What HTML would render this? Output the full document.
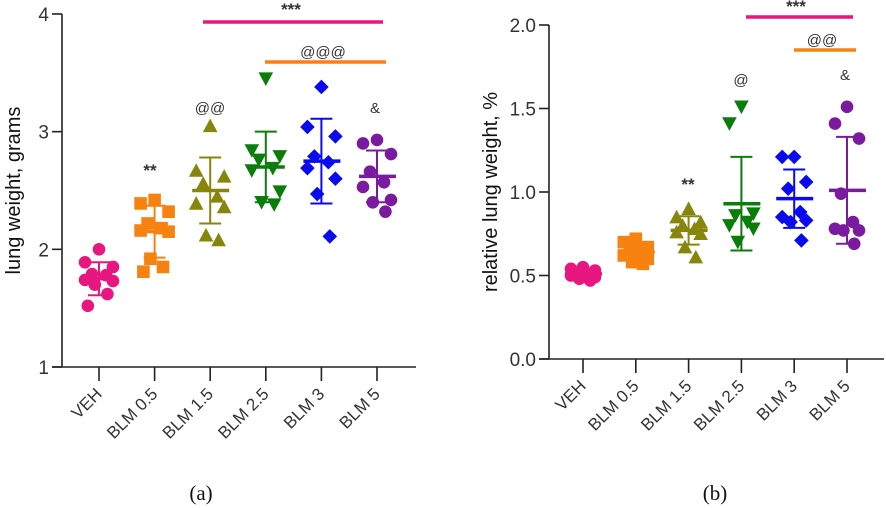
<!DOCTYPE html>
<html><head><meta charset="utf-8"><style>
html,body{margin:0;padding:0;background:#fff;}
svg{display:block;font-family:"Liberation Sans",sans-serif;}
</style></head><body>
<svg id="fig" width="886" height="508" viewBox="0 0 886 508"></svg>
<script>
const categories = ["VEH","BLM 0.5","BLM 1.5","BLM 2.5","BLM 3","BLM 5"];
const colors = ["#e8177f","#f7820f","#86860a","#0b7d0b","#0a0aee","#7a1a9e"];
const shapes = ["circle","square","tri","itri","diamond","circle"];
// panel a: lung weight (grams)
const aPoints = [
 [2.0,1.89,1.85,1.79,1.78,1.74,1.73,1.70,1.62,1.52],
 [2.42,2.39,2.32,2.22,2.18,2.16,2.15,1.92,1.85,1.81],
 [3.05,2.67,2.62,2.56,2.45,2.39,2.36,2.12,2.08],
 [3.45,2.84,2.79,2.76,2.69,2.67,2.49,2.40,2.38],
 [3.38,3.04,2.96,2.79,2.74,2.69,2.60,2.47,2.11],
 [2.93,2.90,2.81,2.66,2.57,2.53,2.42,2.40,2.32]];
const aMean = [1.75,2.15,2.50,2.70,2.75,2.62];
const aSD = [0.14,0.22,0.28,0.30,0.36,0.22];
const aTicks = [1,2,3,4];
// panel b: relative lung weight (%)
const bPoints = [
 [0.55,0.54,0.53,0.52,0.51,0.50,0.49,0.48,0.47],
 [0.72,0.70,0.67,0.65,0.64,0.62,0.60,0.58,0.57],
 [0.90,0.85,0.82,0.80,0.78,0.76,0.75,0.67,0.61],
 [1.51,1.41,0.87,0.86,0.82,0.80,0.78,0.70],
 [1.21,1.21,1.06,1.02,0.88,0.85,0.83,0.82,0.71],
 [1.51,1.41,1.32,0.99,0.82,0.78,0.77,0.77,0.69]];
const bMean = [0.51,0.64,0.77,0.93,0.96,1.01];
const bSD = [0.03,0.04,0.085,0.28,0.175,0.32];
const bTicks = [0.0,0.5,1.0,1.5,2.0];
const bTickLabels = ["0.0","0.5","1.0","1.5","2.0"];
const jitterPattern = [0,-1,1,-0.5,0.5,-1,1,-0.3,0.6,-0.8];

const NS="http://www.w3.org/2000/svg";
const svg=document.getElementById('fig');
function el(tag,attrs,parent){const e=document.createElementNS(NS,tag);for(const k in attrs)e.setAttribute(k,attrs[k]);(parent||svg).appendChild(e);return e;}

function panel(cfg){
  const g=el('g',{});
  
  
  const y=v=>cfg.y0+(v-cfg.vmin)/(cfg.vmax-cfg.vmin)*(cfg.y1-cfg.y0);
  const x=i=>cfg.x0+i*cfg.dx;
  const ax=el('line',{x1:cfg.ax,y1:y(cfg.vmax),x2:cfg.ax,y2:cfg.base,stroke:'#222','stroke-width':1.6},g);
  
  const xa=el('line',{x1:cfg.ax-10,y1:cfg.base,x2:cfg.xend,y2:cfg.base,stroke:'#222','stroke-width':1.6},g);
  
  cfg.ticks.forEach((t,i)=>{
    el('line',{x1:cfg.ax-10,y1:y(t),x2:cfg.ax,y2:y(t),stroke:'#222','stroke-width':1.6},g);
    const tl=el('text',{x:cfg.ax-13,y:y(t)+7,'text-anchor':'end','font-size':19,fill:'#333'},g);
    tl.textContent=cfg.tickLabels[i];
    
  });
  const yt=el('text',{transform:`translate(${cfg.titleX},${(y(cfg.vmin)+y(cfg.vmax))/2}) rotate(-90)`,'text-anchor':'middle','font-size':20,fill:'#111'},g);
  yt.textContent=cfg.title;
  categories.forEach((c,i)=>{
    el('line',{x1:x(i),y1:cfg.base,x2:x(i),y2:cfg.base+14,stroke:'#222','stroke-width':1.6},g);
    const lx=x(i)+4,ly=cfg.base+28;
    const t=el('text',{x:lx,y:ly,'text-anchor':'end','font-size':17,fill:'#333',transform:`rotate(-45 ${lx} ${ly})`},g);
    t.textContent=c;
    const col=colors[i];
    const grp=el('g',{},g);
    
    
    cfg.points[i].forEach((v,k)=>{
      const off=jitterPattern[k%jitterPattern.length]*cfg.jit;
      const px=x(i)+off,py=y(v),r=6.3;
      let m;
      if(shapes[i]==='circle')m=el('circle',{cx:px,cy:py,r:r,fill:col},grp);
      else if(shapes[i]==='square')m=el('rect',{x:px-r,y:py-r,width:2*r,height:2*r,fill:col},grp);
      else if(shapes[i]==='tri')m=el('polygon',{points:`${px},${py-r-1} ${px-r-1},${py+r} ${px+r+1},${py+r}`,fill:col},grp);
      else if(shapes[i]==='itri')m=el('polygon',{points:`${px},${py+r+1} ${px-r-1},${py-r} ${px+r+1},${py-r}`,fill:col},grp);
      else m=el('polygon',{points:`${px},${py-r-1} ${px+r+1},${py} ${px},${py+r+1} ${px-r-1},${py}`,fill:col},grp);
      
    });
    const m=cfg.mean[i],s=cfg.sd[i];
    const eb=el('path',{d:`M${x(i)},${y(m+s)}V${y(m-s)}M${x(i)-11},${y(m+s)}H${x(i)+11}M${x(i)-11},${y(m-s)}H${x(i)+11}`,stroke:col,'stroke-width':2,fill:'none'},grp);
    
    const ml=el('line',{x1:x(i)-18,y1:y(m),x2:x(i)+19,y2:y(m),stroke:col,'stroke-width':3.5},grp);
    
  });
  cfg.sig.forEach(s=>{
    if(s.x2){const l=el('line',{x1:s.x1,y1:s.y,x2:s.x2,y2:s.y,stroke:s.c,'stroke-width':3.5},g);
      }
    const t=el('text',{x:s.tx,y:s.ty,'text-anchor':'middle','font-size':s.fs||15,fill:'#333','font-weight':s.b?'bold':'normal'},g);
    t.textContent=s.t;
  });
  const lab=el('text',{x:cfg.labX,y:500,'text-anchor':'middle','font-size':21,'font-family':'Liberation Serif, serif',fill:'#111'},g);
  lab.textContent=cfg.label;
}

panel({name:'panel-a-lung-weight',ax:62,base:367,xend:416,vmin:1,vmax:4,y0:367,y1:14,x0:99,dx:55.6,jit:14,
  ticks:aTicks,tickLabels:aTicks.map(String),title:'lung weight, grams',titleX:20,points:aPoints,mean:aMean,sd:aSD,
  label:'(a)',labX:201,
  sig:[{x1:203,x2:383,y:22,c:'#e8177f',t:'***',tx:291,ty:15,b:true,fs:17},
       {x1:265,x2:386,y:62,c:'#f7820f',t:'@@@',tx:323,ty:57},
       {t:'@@',tx:210,ty:113},{t:'**',tx:150,ty:176,b:true,fs:17},{t:'&',tx:375,ty:113}]});
panel({name:'panel-b-relative-lung-weight',ax:549,base:359,xend:884,vmin:0,vmax:2,y0:359,y1:25,x0:583,dx:52.8,jit:12,
  ticks:bTicks,tickLabels:bTickLabels,title:'relative lung weight, %',titleX:497,points:bPoints,mean:bMean,sd:bSD,
  label:'(b)',labX:715,
  sig:[{x1:746,x2:853,y:17,c:'#e8177f',t:'***',tx:796,ty:12,b:true,fs:17},
       {x1:794,x2:856,y:50,c:'#f7820f',t:'@@',tx:822,ty:45},
       {t:'@',tx:741,ty:85},{t:'**',tx:688,ty:190,b:true,fs:17},{t:'&',tx:845,ty:80}]});
</script>
</body></html>
